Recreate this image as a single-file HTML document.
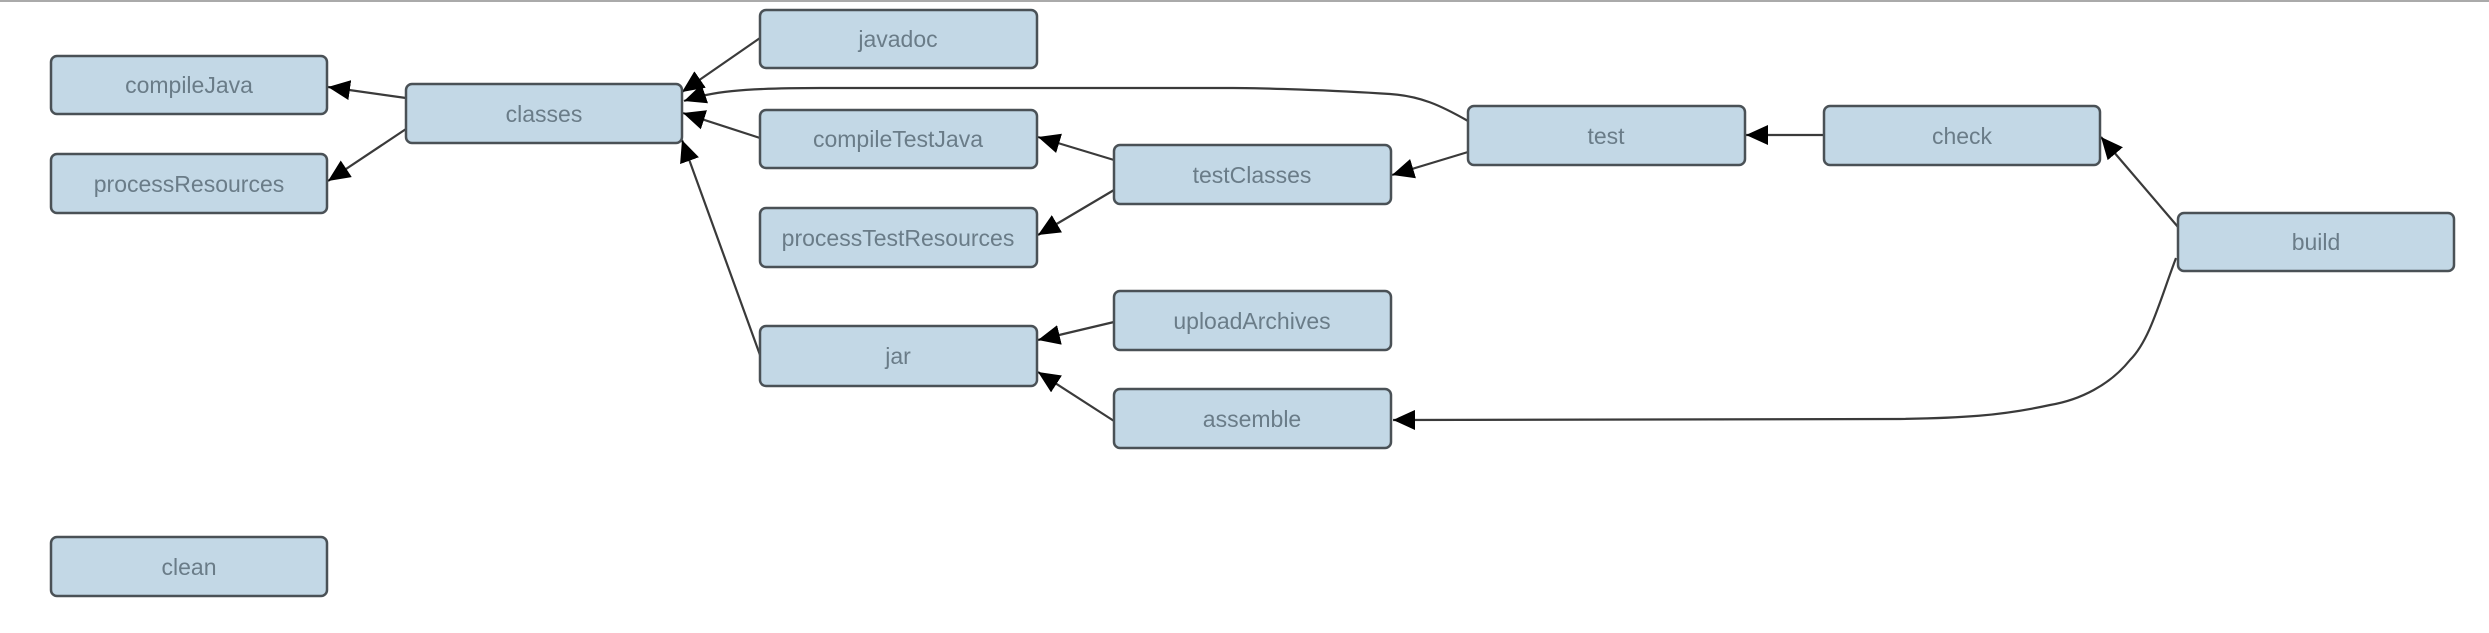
<!DOCTYPE html>
<html><head><meta charset="utf-8"><style>
html,body{margin:0;padding:0;background:#fff;width:2489px;height:633px;overflow:hidden}
svg{display:block}
text{font-family:"Liberation Sans",sans-serif;font-size:23px;fill:#6a7c88;text-anchor:middle;dominant-baseline:central}
rect{fill:#c3d8e6;stroke:#4a5156;stroke-width:2.5}
path.e{fill:none;stroke:#3a3a3a;stroke-width:2.2}
</style></head><body>
<svg width="2489" height="633" viewBox="0 0 2489 633">
<defs>
<marker id="a" markerUnits="userSpaceOnUse" markerWidth="24" markerHeight="20" refX="22" refY="10" orient="auto">
<path d="M0,0 L22,10 L0,20 Z" fill="#000"/>
</marker>
</defs>
<line x1="0" y1="1" x2="2489" y2="1" stroke="#aaa" stroke-width="2"/>
<!-- edges -->
<path class="e" marker-end="url(#a)" d="M406,98 L328,87"/>
<path class="e" marker-end="url(#a)" d="M406,129 L328,181"/>
<path class="e" marker-end="url(#a)" d="M760,38 L682,92"/>
<path class="e" marker-end="url(#a)" d="M1468,121 C1440,105 1420,96 1390,94 C1330,90 1260,88 1233,88 L820,88 C740,88 710,92 684,101"/>
<path class="e" marker-end="url(#a)" d="M760,138 L683,113"/>
<path class="e" marker-end="url(#a)" d="M760,355 L682,140"/>
<path class="e" marker-end="url(#a)" d="M1114,160 L1038,137"/>
<path class="e" marker-end="url(#a)" d="M1114,190 L1038,235"/>
<path class="e" marker-end="url(#a)" d="M1468,152 L1392,175"/>
<path class="e" marker-end="url(#a)" d="M1824,135 L1746,135"/>
<path class="e" marker-end="url(#a)" d="M2178,227 L2101,137"/>
<path class="e" marker-end="url(#a)" d="M1114,322 L1038,340"/>
<path class="e" marker-end="url(#a)" d="M1114,421 L1038,372"/>
<path class="e" marker-end="url(#a)" d="M2176,258 C2160,300 2150,340 2130,360 C2110,385 2080,400 2050,405 C2000,416 1960,418 1900,419 L1393,420"/>
<!-- nodes -->
<g>
<rect x="51" y="56" width="276" height="58" rx="6"/><text x="189" y="85">compileJava</text>
<rect x="51" y="154" width="276" height="59" rx="6"/><text x="189" y="184">processResources</text>
<rect x="406" y="84" width="276" height="59" rx="6"/><text x="544" y="114">classes</text>
<rect x="760" y="10" width="277" height="58" rx="6"/><text x="898" y="39">javadoc</text>
<rect x="760" y="110" width="277" height="58" rx="6"/><text x="898" y="139">compileTestJava</text>
<rect x="760" y="208" width="277" height="59" rx="6"/><text x="898" y="238">processTestResources</text>
<rect x="760" y="326" width="277" height="60" rx="6"/><text x="898" y="356">jar</text>
<rect x="1114" y="145" width="277" height="59" rx="6"/><text x="1252" y="175">testClasses</text>
<rect x="1114" y="291" width="277" height="59" rx="6"/><text x="1252" y="321">uploadArchives</text>
<rect x="1114" y="389" width="277" height="59" rx="6"/><text x="1252" y="419">assemble</text>
<rect x="1468" y="106" width="277" height="59" rx="6"/><text x="1606" y="136">test</text>
<rect x="1824" y="106" width="276" height="59" rx="6"/><text x="1962" y="136">check</text>
<rect x="2178" y="213" width="276" height="58" rx="6"/><text x="2316" y="242">build</text>
<rect x="51" y="537" width="276" height="59" rx="6"/><text x="189" y="567">clean</text>
</g>
</svg>
</body></html>
